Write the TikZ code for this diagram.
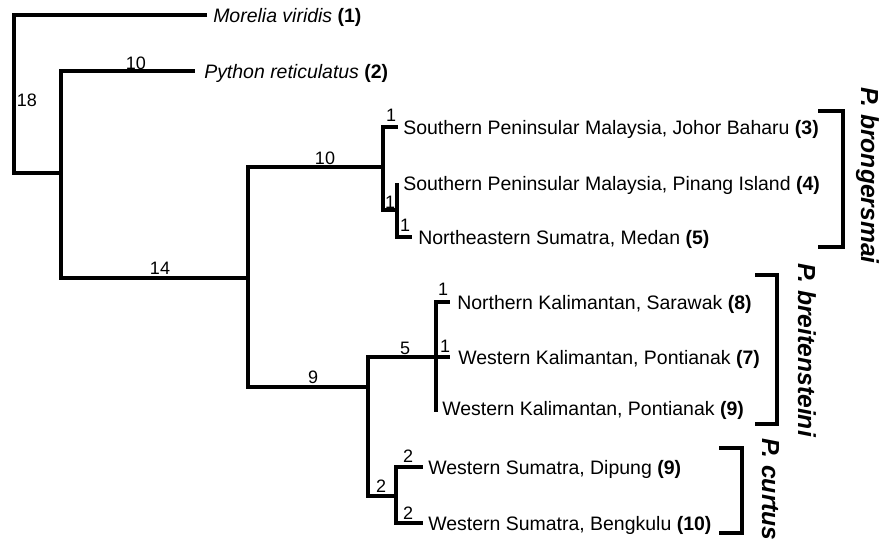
\documentclass[tikz,border=0pt]{standalone}
\usepackage{fontspec}
\setmainfont{Liberation Sans}
\begin{document}
\begin{tikzpicture}[x=0.75pt,y=-0.75pt,
  tree/.style={line width=2.6pt, line join=miter, line cap=butt},
  brk/.style={line width=2.6pt, line join=miter},
  tip/.style={anchor=base west, inner sep=0pt, font=\fontsize{14.6}{17}\selectfont},
  num/.style={anchor=center, inner sep=0pt, font=\fontsize{13.5}{16}\selectfont},
  spec/.style={rotate=-90, anchor=base west, inner sep=0pt, font=\fontsize{18.5}{21}\selectfont\bfseries\itshape}]
\useasboundingbox (0,0) rectangle (880,547);
% internal nodes
\coordinate (R) at (14,173);
\coordinate (A) at (61,173);
\coordinate (B) at (248,278);
\coordinate (C) at (383,167);
\coordinate (D) at (397,210);
\coordinate (E) at (368,387);
\coordinate (F) at (436,357);
\coordinate (G) at (396,496);
% branch ends
\coordinate (mvE) at (207,15);
\coordinate (pyE) at (195,71);
\coordinate (johE) at (398,127);
\coordinate (pinE) at (397,183);
\coordinate (medE) at (412,237);
\coordinate (sarE) at (450,302);
\coordinate (pon7E) at (450,357);
\coordinate (pon9E) at (436,412);
\coordinate (dipE) at (423,467);
\coordinate (benE) at (423,523);
% tips
\node[tip] (mv) at (213,22) {\textit{Morelia viridis} \textbf{(1)}};
\node[tip] (py) at (204,78) {\textit{Python reticulatus} \textbf{(2)}};
\node[tip] (joh) at (403,134) {Southern Peninsular Malaysia, Johor Baharu \textbf{(3)}};
\node[tip] (pin) at (403,190) {Southern Peninsular Malaysia, Pinang Island \textbf{(4)}};
\node[tip] (med) at (418,244) {Northeastern Sumatra, Medan \textbf{(5)}};
\node[tip] (sar) at (457,309) {Northern Kalimantan, Sarawak \textbf{(8)}};
\node[tip] (pon7) at (458,364) {Western Kalimantan, Pontianak \textbf{(7)}};
\node[tip] (pon9) at (442,415) {Western Kalimantan, Pontianak \textbf{(9)}};
\node[tip] (dip) at (428,474) {Western Sumatra, Dipung \textbf{(9)}};
\node[tip] (ben) at (428,530) {Western Sumatra, Bengkulu \textbf{(10)}};
% tree
\draw[tree] (mvE) -| (R) -- (A);
\draw[tree] (A) |- (pyE);
\draw[tree] (A) |- (B);
\draw[tree] (B) |- (C);
\draw[tree] (B) |- (E);
\draw[tree] (C) |- (johE);
\draw[tree] (C) |- (D);
\draw[tree] (D) -- (pinE);
\draw[tree] (D) |- (medE);
\draw[tree] (E) |- (F);
\draw[tree] (E) |- (G);
\draw[tree] (F) |- (sarE);
\draw[tree] (F) -- (pon7E);
\draw[tree] (F) -- (pon9E);
\draw[tree] (G) |- (dipE);
\draw[tree] (G) |- (benE);
% branch lengths
\node[num] (n18) at (27,100) {18};
\node[num] (n10a) at (136,63) {10};
\node[num] (n14) at (160,268) {14};
\node[num] (n10b) at (325,158) {10};
\node[num] (n1a) at (391,115) {1};
\node[num] (n1b) at (390,202) {1};
\node[num] (n1c) at (405,225) {1};
\node[num] (n9) at (313,377) {9};
\node[num] (n5) at (405,348) {5};
\node[num] (n1d) at (443,289) {1};
\node[num] (n1e) at (445,346) {1};
\node[num] (n2a) at (381,486) {2};
\node[num] (n2b) at (408,456) {2};
\node[num] (n2c) at (408,513) {2};
% species brackets
\coordinate (b1t) at (818,111); \coordinate (b1b) at (818,247);
\coordinate (b2t) at (755,275); \coordinate (b2b) at (755,424);
\coordinate (b3t) at (719,448); \coordinate (b3b) at (719,533);
\draw[brk] (b1t) -- (843,111) -- (843,247) -- (b1b);
\draw[brk] (b2t) -- (777,275) -- (777,424) -- (b2b);
\draw[brk] (b3t) -- (742,448) -- (742,533) -- (b3b);
\node[spec] (s1) at (861,87) {P. brongersmai};
\node[spec] (s2) at (798,263) {P. breitensteini};
\node[spec] (s3) at (762,438) {P. curtus};
\end{tikzpicture}
\end{document}
